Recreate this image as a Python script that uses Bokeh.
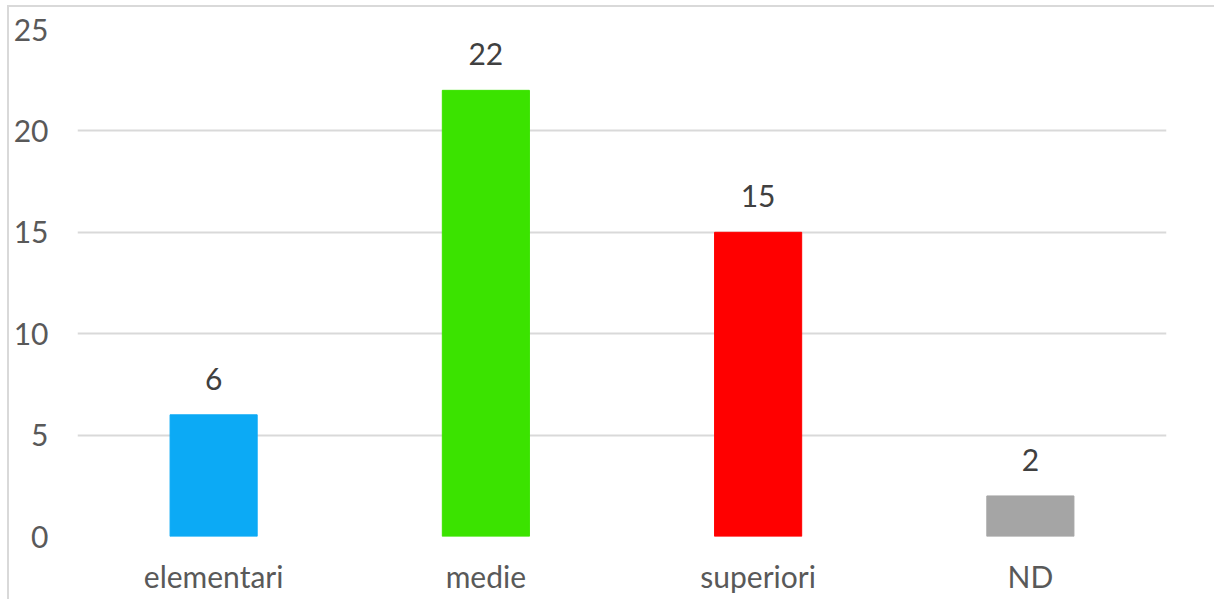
from bokeh.plotting import figure
from bokeh.models import ColumnDataSource, FactorRange, SingleIntervalTicker, LabelSet
from bokeh.core.properties import value
from bokeh.embed import file_html
from bokeh.resources import INLINE

# Education level counts
categories = ["elementari", "medie", "superiori", "ND"]
counts = [6, 22, 15, 2]
bar_colors = ["#0CAAF5", "#3BE300", "#FF0000", "#A5A5A5"]

FONT = "Lato"
SIZE = "30px"
source = ColumnDataSource(dict(cat=categories, val=counts, color=bar_colors,
                               lbl=[str(v) for v in counts]))

p = figure(
    x_range=FactorRange(*categories, range_padding=0),
    y_range=(0, 25),
    width=1205, height=592,
    frame_width=1089, frame_height=507,
    output_backend="svg", toolbar_location=None,
    min_border_left=68, min_border_right=48,
    min_border_top=22, min_border_bottom=63,
)
p.styles = {"margin-left": "7px", "margin-top": "5px",
            "border-left": "2px solid #D9D9D9", "border-top": "2px solid #D9D9D9"}

p.vbar(x="cat", top="val", width=0.32, color="color", source=source)

p.add_layout(LabelSet(x="cat", y="val", text="lbl", source=source,
                      text_align="center", text_baseline="alphabetic", y_offset=25,
                      text_font=value(FONT), text_font_size=value(SIZE),
                      text_color="#404040"))

p.outline_line_color = None
p.xgrid.grid_line_color = None
p.ygrid.grid_line_color = "#D9D9D9"
p.ygrid.grid_line_width = 2

p.yaxis.ticker = SingleIntervalTicker(interval=5)
for ax in (p.xaxis, p.yaxis):
    ax.axis_line_color = None
    ax.major_tick_line_color = None
    ax.minor_tick_line_color = None
    ax.major_tick_in = 0
    ax.major_tick_out = 0
    ax.major_label_text_font = FONT
    ax.major_label_text_font_size = SIZE
    ax.major_label_text_color = "#595959"
p.yaxis.major_label_standoff = 25
p.xaxis.major_label_standoff = 21

open("out.html", "w").write(file_html(p, INLINE))
